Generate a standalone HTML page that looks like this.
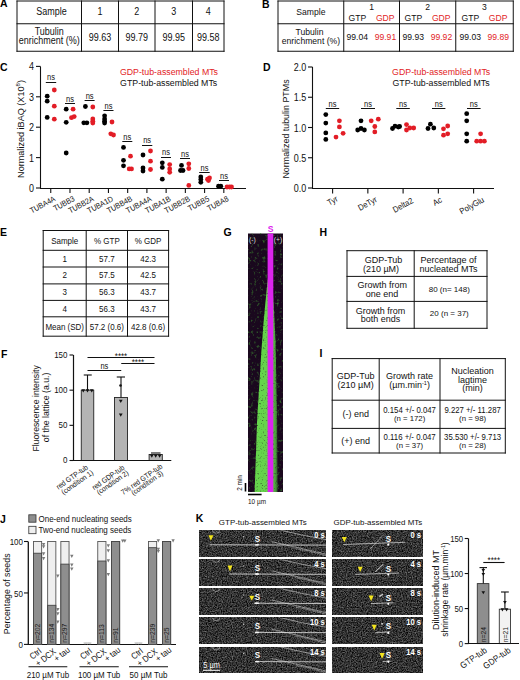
<!DOCTYPE html>
<html><head><meta charset="utf-8"><style>
html,body{margin:0;padding:0;background:#fff;}
svg{display:block;font-family:"Liberation Sans", sans-serif;}
</style></head><body>
<svg width="520" height="680" viewBox="0 0 520 680">
<rect width="520" height="680" fill="#fff"/>
<text transform="translate(0.00 7.00) scale(1 1.12)" font-size="10.5" text-anchor="start" fill="#000" font-weight="bold" >A</text>
<line x1="17.00" y1="0.50" x2="17.00" y2="51.75" stroke="#111" stroke-width="1" stroke-linecap="butt"/>
<line x1="81.50" y1="0.50" x2="81.50" y2="51.75" stroke="#111" stroke-width="1" stroke-linecap="butt"/>
<line x1="118.50" y1="0.50" x2="118.50" y2="51.75" stroke="#111" stroke-width="1" stroke-linecap="butt"/>
<line x1="155.00" y1="0.50" x2="155.00" y2="51.75" stroke="#111" stroke-width="1" stroke-linecap="butt"/>
<line x1="192.50" y1="0.50" x2="192.50" y2="51.75" stroke="#111" stroke-width="1" stroke-linecap="butt"/>
<line x1="224.00" y1="0.50" x2="224.00" y2="51.75" stroke="#111" stroke-width="1" stroke-linecap="butt"/>
<line x1="16.50" y1="1.00" x2="224.50" y2="1.00" stroke="#111" stroke-width="1" stroke-linecap="butt"/>
<line x1="16.50" y1="23.75" x2="224.50" y2="23.75" stroke="#111" stroke-width="1" stroke-linecap="butt"/>
<line x1="16.50" y1="51.25" x2="224.50" y2="51.25" stroke="#111" stroke-width="1" stroke-linecap="butt"/>
<text transform="translate(51.50 15.30) scale(1 1.12)" font-size="9" text-anchor="middle" fill="#111" font-weight="normal" >Sample</text>
<text transform="translate(49.25 35.30) scale(1 1.12)" font-size="9" text-anchor="middle" fill="#111" font-weight="normal" >Tubulin</text>
<text transform="translate(49.25 43.80) scale(1 1.12)" font-size="9" text-anchor="middle" fill="#111" font-weight="normal" >enrichment (%)</text>
<text transform="translate(100.00 15.30) scale(1 1.12)" font-size="9" text-anchor="middle" fill="#111" font-weight="normal" >1</text>
<text transform="translate(100.00 40.50) scale(1 1.12)" font-size="9" text-anchor="middle" fill="#111" font-weight="normal" >99.63</text>
<text transform="translate(136.75 15.30) scale(1 1.12)" font-size="9" text-anchor="middle" fill="#111" font-weight="normal" >2</text>
<text transform="translate(136.75 40.50) scale(1 1.12)" font-size="9" text-anchor="middle" fill="#111" font-weight="normal" >99.79</text>
<text transform="translate(173.75 15.30) scale(1 1.12)" font-size="9" text-anchor="middle" fill="#111" font-weight="normal" >3</text>
<text transform="translate(173.75 40.50) scale(1 1.12)" font-size="9" text-anchor="middle" fill="#111" font-weight="normal" >99.95</text>
<text transform="translate(208.25 15.30) scale(1 1.12)" font-size="9" text-anchor="middle" fill="#111" font-weight="normal" >4</text>
<text transform="translate(208.25 40.50) scale(1 1.12)" font-size="9" text-anchor="middle" fill="#111" font-weight="normal" >99.58</text>
<text transform="translate(262.00 8.00) scale(1 1.12)" font-size="10.5" text-anchor="start" fill="#000" font-weight="bold" >B</text>
<line x1="278.00" y1="0.50" x2="278.00" y2="51.75" stroke="#111" stroke-width="1" stroke-linecap="butt"/>
<line x1="343.75" y1="0.50" x2="343.75" y2="51.75" stroke="#111" stroke-width="1" stroke-linecap="butt"/>
<line x1="399.50" y1="0.50" x2="399.50" y2="51.75" stroke="#111" stroke-width="1" stroke-linecap="butt"/>
<line x1="455.75" y1="0.50" x2="455.75" y2="51.75" stroke="#111" stroke-width="1" stroke-linecap="butt"/>
<line x1="513.25" y1="0.50" x2="513.25" y2="51.75" stroke="#111" stroke-width="1" stroke-linecap="butt"/>
<line x1="277.50" y1="1.00" x2="513.75" y2="1.00" stroke="#111" stroke-width="1" stroke-linecap="butt"/>
<line x1="277.50" y1="23.75" x2="513.75" y2="23.75" stroke="#111" stroke-width="1" stroke-linecap="butt"/>
<line x1="277.50" y1="51.25" x2="513.75" y2="51.25" stroke="#111" stroke-width="1" stroke-linecap="butt"/>
<text transform="translate(310.90 15.30) scale(1 1.12)" font-size="8.6" text-anchor="middle" fill="#111" font-weight="normal" >Sample</text>
<text transform="translate(309.50 35.30) scale(1 1.12)" font-size="8.6" text-anchor="middle" fill="#111" font-weight="normal" >Tubulin</text>
<text transform="translate(310.90 43.80) scale(1 1.12)" font-size="8.6" text-anchor="middle" fill="#111" font-weight="normal" >enrichment (%)</text>
<text transform="translate(371.62 10.10) scale(1 1.12)" font-size="8.6" text-anchor="middle" fill="#111" font-weight="normal" >1</text>
<text transform="translate(357.43 20.50) scale(1 1.12)" font-size="8.6" text-anchor="middle" fill="#111" font-weight="normal" >GTP</text>
<text transform="translate(385.23 20.50) scale(1 1.12)" font-size="8.6" text-anchor="middle" fill="#e21d26" font-weight="normal" >GDP</text>
<text transform="translate(357.32 40.30) scale(1 1.12)" font-size="8.6" text-anchor="middle" fill="#111" font-weight="normal" >99.04</text>
<text transform="translate(385.43 40.30) scale(1 1.12)" font-size="8.6" text-anchor="middle" fill="#e21d26" font-weight="normal" >99.91</text>
<text transform="translate(427.62 10.10) scale(1 1.12)" font-size="8.6" text-anchor="middle" fill="#111" font-weight="normal" >2</text>
<text transform="translate(413.43 20.50) scale(1 1.12)" font-size="8.6" text-anchor="middle" fill="#111" font-weight="normal" >GTP</text>
<text transform="translate(441.23 20.50) scale(1 1.12)" font-size="8.6" text-anchor="middle" fill="#e21d26" font-weight="normal" >GDP</text>
<text transform="translate(413.32 40.30) scale(1 1.12)" font-size="8.6" text-anchor="middle" fill="#111" font-weight="normal" >99.93</text>
<text transform="translate(441.43 40.30) scale(1 1.12)" font-size="8.6" text-anchor="middle" fill="#e21d26" font-weight="normal" >99.92</text>
<text transform="translate(484.50 10.10) scale(1 1.12)" font-size="8.6" text-anchor="middle" fill="#111" font-weight="normal" >3</text>
<text transform="translate(470.30 20.50) scale(1 1.12)" font-size="8.6" text-anchor="middle" fill="#111" font-weight="normal" >GTP</text>
<text transform="translate(498.10 20.50) scale(1 1.12)" font-size="8.6" text-anchor="middle" fill="#e21d26" font-weight="normal" >GDP</text>
<text transform="translate(470.20 40.30) scale(1 1.12)" font-size="8.6" text-anchor="middle" fill="#111" font-weight="normal" >99.03</text>
<text transform="translate(498.30 40.30) scale(1 1.12)" font-size="8.6" text-anchor="middle" fill="#e21d26" font-weight="normal" >99.89</text>
<text transform="translate(0.00 70.50) scale(1 1.12)" font-size="10.5" text-anchor="start" fill="#000" font-weight="bold" >C</text>
<line x1="40.50" y1="66.50" x2="40.50" y2="188.50" stroke="#111" stroke-width="1.1" stroke-linecap="butt"/>
<line x1="36.00" y1="188.00" x2="40.50" y2="188.00" stroke="#111" stroke-width="1.1" stroke-linecap="butt"/>
<text transform="translate(34.00 192.00) scale(1 1.12)" font-size="9" text-anchor="end" fill="#111" font-weight="normal" >0</text>
<line x1="36.00" y1="157.60" x2="40.50" y2="157.60" stroke="#111" stroke-width="1.1" stroke-linecap="butt"/>
<text transform="translate(34.00 161.60) scale(1 1.12)" font-size="9" text-anchor="end" fill="#111" font-weight="normal" >1</text>
<line x1="36.00" y1="127.20" x2="40.50" y2="127.20" stroke="#111" stroke-width="1.1" stroke-linecap="butt"/>
<text transform="translate(34.00 131.20) scale(1 1.12)" font-size="9" text-anchor="end" fill="#111" font-weight="normal" >2</text>
<line x1="36.00" y1="96.80" x2="40.50" y2="96.80" stroke="#111" stroke-width="1.1" stroke-linecap="butt"/>
<text transform="translate(34.00 100.80) scale(1 1.12)" font-size="9" text-anchor="end" fill="#111" font-weight="normal" >3</text>
<line x1="36.00" y1="66.40" x2="40.50" y2="66.40" stroke="#111" stroke-width="1.1" stroke-linecap="butt"/>
<text transform="translate(34.00 70.40) scale(1 1.12)" font-size="9" text-anchor="end" fill="#111" font-weight="normal" >4</text>
<line x1="40.00" y1="188.50" x2="246.00" y2="188.50" stroke="#111" stroke-width="1.2" stroke-linecap="butt"/>
<line x1="50.75" y1="188.00" x2="50.75" y2="193.00" stroke="#111" stroke-width="1.1" stroke-linecap="butt"/>
<text transform="translate(56.05 200.50) rotate(-28) scale(1 1.12)" font-size="7.1" text-anchor="end" fill="#111" font-weight="normal" >TUBA4A</text>
<line x1="69.98" y1="188.00" x2="69.98" y2="193.00" stroke="#111" stroke-width="1.1" stroke-linecap="butt"/>
<text transform="translate(75.28 200.50) rotate(-28) scale(1 1.12)" font-size="7.1" text-anchor="end" fill="#111" font-weight="normal" >TUBB3</text>
<line x1="89.21" y1="188.00" x2="89.21" y2="193.00" stroke="#111" stroke-width="1.1" stroke-linecap="butt"/>
<text transform="translate(94.51 200.50) rotate(-28) scale(1 1.12)" font-size="7.1" text-anchor="end" fill="#111" font-weight="normal" >TUBB2A</text>
<line x1="108.44" y1="188.00" x2="108.44" y2="193.00" stroke="#111" stroke-width="1.1" stroke-linecap="butt"/>
<text transform="translate(113.74 200.50) rotate(-28) scale(1 1.12)" font-size="7.1" text-anchor="end" fill="#111" font-weight="normal" >TUBA1D</text>
<line x1="127.67" y1="188.00" x2="127.67" y2="193.00" stroke="#111" stroke-width="1.1" stroke-linecap="butt"/>
<text transform="translate(132.97 200.50) rotate(-28) scale(1 1.12)" font-size="7.1" text-anchor="end" fill="#111" font-weight="normal" >TUBB4B</text>
<line x1="146.90" y1="188.00" x2="146.90" y2="193.00" stroke="#111" stroke-width="1.1" stroke-linecap="butt"/>
<text transform="translate(152.20 200.50) rotate(-28) scale(1 1.12)" font-size="7.1" text-anchor="end" fill="#111" font-weight="normal" >TUBA4A</text>
<line x1="166.13" y1="188.00" x2="166.13" y2="193.00" stroke="#111" stroke-width="1.1" stroke-linecap="butt"/>
<text transform="translate(171.43 200.50) rotate(-28) scale(1 1.12)" font-size="7.1" text-anchor="end" fill="#111" font-weight="normal" >TUBA1B</text>
<line x1="185.36" y1="188.00" x2="185.36" y2="193.00" stroke="#111" stroke-width="1.1" stroke-linecap="butt"/>
<text transform="translate(190.66 200.50) rotate(-28) scale(1 1.12)" font-size="7.1" text-anchor="end" fill="#111" font-weight="normal" >TUBB2B</text>
<line x1="204.59" y1="188.00" x2="204.59" y2="193.00" stroke="#111" stroke-width="1.1" stroke-linecap="butt"/>
<text transform="translate(209.89 200.50) rotate(-28) scale(1 1.12)" font-size="7.1" text-anchor="end" fill="#111" font-weight="normal" >TUBB5</text>
<line x1="223.82" y1="188.00" x2="223.82" y2="193.00" stroke="#111" stroke-width="1.1" stroke-linecap="butt"/>
<text transform="translate(229.12 200.50) rotate(-28) scale(1 1.12)" font-size="7.1" text-anchor="end" fill="#111" font-weight="normal" >TUBA8</text>
<text transform="translate(23.50 129.00) rotate(-90) scale(1 1.0)" font-size="9.1" text-anchor="middle" fill="#111" font-weight="normal" >Normalized iBAQ (X10<tspan font-size="6" dy="-3.5">8</tspan><tspan dy="3.5">)</tspan></text>
<text transform="translate(218.00 75.40) scale(1 1.07)" font-size="8.8" text-anchor="end" fill="#e21d26" font-weight="normal" >GDP-tub-assembled MTs</text>
<text transform="translate(217.20 85.80) scale(1 1.07)" font-size="8.8" text-anchor="end" fill="#111" font-weight="normal" >GTP-tub-assembled MTs</text>
<line x1="45.80" y1="82.50" x2="56.20" y2="82.50" stroke="#111" stroke-width="1.0" stroke-linecap="butt"/>
<text transform="translate(51.00 80.20) scale(1 1.12)" font-size="7.5" text-anchor="middle" fill="#111" font-weight="normal" >ns</text>
<line x1="65.00" y1="103.50" x2="75.00" y2="103.50" stroke="#111" stroke-width="1.0" stroke-linecap="butt"/>
<text transform="translate(70.00 101.60) scale(1 1.12)" font-size="7.5" text-anchor="middle" fill="#111" font-weight="normal" >ns</text>
<line x1="84.60" y1="100.50" x2="94.60" y2="100.50" stroke="#111" stroke-width="1.0" stroke-linecap="butt"/>
<text transform="translate(89.60 98.70) scale(1 1.12)" font-size="7.5" text-anchor="middle" fill="#111" font-weight="normal" >ns</text>
<line x1="103.40" y1="110.50" x2="113.50" y2="110.50" stroke="#111" stroke-width="1.0" stroke-linecap="butt"/>
<text transform="translate(108.45 108.70) scale(1 1.12)" font-size="7.5" text-anchor="middle" fill="#111" font-weight="normal" >ns</text>
<line x1="122.30" y1="141.50" x2="132.30" y2="141.50" stroke="#111" stroke-width="1.0" stroke-linecap="butt"/>
<text transform="translate(127.30 139.70) scale(1 1.12)" font-size="7.5" text-anchor="middle" fill="#111" font-weight="normal" >ns</text>
<line x1="142.00" y1="145.50" x2="152.30" y2="145.50" stroke="#111" stroke-width="1.0" stroke-linecap="butt"/>
<text transform="translate(147.15 143.20) scale(1 1.12)" font-size="7.5" text-anchor="middle" fill="#111" font-weight="normal" >ns</text>
<line x1="161.00" y1="157.50" x2="171.00" y2="157.50" stroke="#111" stroke-width="1.0" stroke-linecap="butt"/>
<text transform="translate(166.00 155.20) scale(1 1.12)" font-size="7.5" text-anchor="middle" fill="#111" font-weight="normal" >ns</text>
<line x1="180.00" y1="158.50" x2="190.00" y2="158.50" stroke="#111" stroke-width="1.0" stroke-linecap="butt"/>
<text transform="translate(185.00 156.70) scale(1 1.12)" font-size="7.5" text-anchor="middle" fill="#111" font-weight="normal" >ns</text>
<line x1="199.20" y1="172.50" x2="209.70" y2="172.50" stroke="#111" stroke-width="1.0" stroke-linecap="butt"/>
<text transform="translate(204.45 170.50) scale(1 1.12)" font-size="7.5" text-anchor="middle" fill="#111" font-weight="normal" >ns</text>
<line x1="219.00" y1="180.50" x2="229.00" y2="180.50" stroke="#111" stroke-width="1.0" stroke-linecap="butt"/>
<text transform="translate(224.00 178.50) scale(1 1.12)" font-size="7.5" text-anchor="middle" fill="#111" font-weight="normal" >ns</text>
<circle cx="47.20" cy="96.20" r="2.4" fill="#000"/>
<circle cx="47.20" cy="101.20" r="2.4" fill="#000"/>
<circle cx="47.20" cy="117.40" r="2.4" fill="#000"/>
<circle cx="66.20" cy="109.20" r="2.4" fill="#000"/>
<circle cx="66.20" cy="122.30" r="2.4" fill="#000"/>
<circle cx="66.20" cy="153.00" r="2.4" fill="#000"/>
<circle cx="85.40" cy="106.50" r="2.4" fill="#000"/>
<circle cx="83.80" cy="122.80" r="2.4" fill="#000"/>
<circle cx="86.90" cy="122.80" r="2.4" fill="#000"/>
<circle cx="104.60" cy="115.80" r="2.4" fill="#000"/>
<circle cx="104.60" cy="118.90" r="2.4" fill="#000"/>
<circle cx="104.60" cy="121.20" r="2.4" fill="#000"/>
<circle cx="104.60" cy="123.00" r="2.4" fill="#000"/>
<circle cx="123.50" cy="147.40" r="2.4" fill="#000"/>
<circle cx="123.50" cy="160.30" r="2.4" fill="#000"/>
<circle cx="123.50" cy="165.80" r="2.4" fill="#000"/>
<circle cx="143.00" cy="155.00" r="2.4" fill="#000"/>
<circle cx="143.00" cy="168.00" r="2.4" fill="#000"/>
<circle cx="143.00" cy="171.00" r="2.4" fill="#000"/>
<circle cx="162.30" cy="162.80" r="2.4" fill="#000"/>
<circle cx="162.30" cy="167.40" r="2.4" fill="#000"/>
<circle cx="162.30" cy="179.20" r="2.4" fill="#000"/>
<circle cx="181.50" cy="165.40" r="2.4" fill="#000"/>
<circle cx="180.50" cy="170.50" r="2.4" fill="#000"/>
<circle cx="183.00" cy="170.50" r="2.4" fill="#000"/>
<circle cx="200.80" cy="177.00" r="2.4" fill="#000"/>
<circle cx="200.80" cy="179.50" r="2.4" fill="#000"/>
<circle cx="200.80" cy="182.30" r="2.4" fill="#000"/>
<circle cx="218.50" cy="186.20" r="2.4" fill="#000"/>
<circle cx="220.80" cy="186.20" r="2.4" fill="#000"/>
<circle cx="54.30" cy="90.00" r="2.4" fill="#e21d26"/>
<circle cx="54.30" cy="106.20" r="2.4" fill="#e21d26"/>
<circle cx="54.30" cy="119.20" r="2.4" fill="#e21d26"/>
<circle cx="73.10" cy="109.20" r="2.4" fill="#e21d26"/>
<circle cx="71.50" cy="117.70" r="2.4" fill="#e21d26"/>
<circle cx="74.20" cy="116.60" r="2.4" fill="#e21d26"/>
<circle cx="92.80" cy="107.00" r="2.4" fill="#e21d26"/>
<circle cx="92.80" cy="118.90" r="2.4" fill="#e21d26"/>
<circle cx="92.80" cy="121.20" r="2.4" fill="#e21d26"/>
<circle cx="92.80" cy="123.00" r="2.4" fill="#e21d26"/>
<circle cx="112.00" cy="122.00" r="2.4" fill="#e21d26"/>
<circle cx="110.80" cy="133.80" r="2.4" fill="#e21d26"/>
<circle cx="113.50" cy="135.00" r="2.4" fill="#e21d26"/>
<circle cx="130.50" cy="156.20" r="2.4" fill="#e21d26"/>
<circle cx="129.20" cy="168.90" r="2.4" fill="#e21d26"/>
<circle cx="131.50" cy="168.90" r="2.4" fill="#e21d26"/>
<circle cx="150.50" cy="151.00" r="2.4" fill="#e21d26"/>
<circle cx="150.50" cy="161.20" r="2.4" fill="#e21d26"/>
<circle cx="150.50" cy="169.50" r="2.4" fill="#e21d26"/>
<circle cx="169.70" cy="164.60" r="2.4" fill="#e21d26"/>
<circle cx="169.70" cy="169.00" r="2.4" fill="#e21d26"/>
<circle cx="169.70" cy="172.30" r="2.4" fill="#e21d26"/>
<circle cx="188.80" cy="163.80" r="2.4" fill="#e21d26"/>
<circle cx="188.80" cy="168.50" r="2.4" fill="#e21d26"/>
<circle cx="188.80" cy="185.40" r="2.4" fill="#e21d26"/>
<circle cx="207.50" cy="179.20" r="2.4" fill="#e21d26"/>
<circle cx="209.50" cy="178.00" r="2.4" fill="#e21d26"/>
<circle cx="208.50" cy="180.50" r="2.4" fill="#e21d26"/>
<circle cx="227.00" cy="187.00" r="2.4" fill="#e21d26"/>
<circle cx="229.50" cy="187.00" r="2.4" fill="#e21d26"/>
<circle cx="231.50" cy="187.00" r="2.4" fill="#e21d26"/>
<text transform="translate(263.00 71.00) scale(1 1.12)" font-size="10.5" text-anchor="start" fill="#000" font-weight="bold" >D</text>
<line x1="312.50" y1="67.00" x2="312.50" y2="188.50" stroke="#111" stroke-width="1.1" stroke-linecap="butt"/>
<line x1="308.00" y1="188.00" x2="312.50" y2="188.00" stroke="#111" stroke-width="1.1" stroke-linecap="butt"/>
<text transform="translate(306.30 192.00) scale(1 1.12)" font-size="9" text-anchor="end" fill="#111" font-weight="normal" >0.0</text>
<line x1="308.00" y1="157.75" x2="312.50" y2="157.75" stroke="#111" stroke-width="1.1" stroke-linecap="butt"/>
<text transform="translate(306.30 161.75) scale(1 1.12)" font-size="9" text-anchor="end" fill="#111" font-weight="normal" >0.5</text>
<line x1="308.00" y1="127.50" x2="312.50" y2="127.50" stroke="#111" stroke-width="1.1" stroke-linecap="butt"/>
<text transform="translate(306.30 131.50) scale(1 1.12)" font-size="9" text-anchor="end" fill="#111" font-weight="normal" >1.0</text>
<line x1="308.00" y1="97.25" x2="312.50" y2="97.25" stroke="#111" stroke-width="1.1" stroke-linecap="butt"/>
<text transform="translate(306.30 101.25) scale(1 1.12)" font-size="9" text-anchor="end" fill="#111" font-weight="normal" >1.5</text>
<line x1="308.00" y1="67.00" x2="312.50" y2="67.00" stroke="#111" stroke-width="1.1" stroke-linecap="butt"/>
<text transform="translate(306.30 71.00) scale(1 1.12)" font-size="9" text-anchor="end" fill="#111" font-weight="normal" >2.0</text>
<line x1="312.00" y1="188.50" x2="494.00" y2="188.50" stroke="#111" stroke-width="1.2" stroke-linecap="butt"/>
<line x1="332.60" y1="188.00" x2="332.60" y2="193.40" stroke="#111" stroke-width="1.1" stroke-linecap="butt"/>
<text transform="translate(338.50 200.60) rotate(-29) scale(1 1.12)" font-size="7.6" text-anchor="end" fill="#111" font-weight="normal" >Tyr</text>
<line x1="367.85" y1="188.00" x2="367.85" y2="193.40" stroke="#111" stroke-width="1.1" stroke-linecap="butt"/>
<text transform="translate(377.70 201.20) rotate(-29) scale(1 1.12)" font-size="7.6" text-anchor="end" fill="#111" font-weight="normal" >DeTyr</text>
<line x1="403.10" y1="188.00" x2="403.10" y2="193.40" stroke="#111" stroke-width="1.1" stroke-linecap="butt"/>
<text transform="translate(414.00 202.40) rotate(-29) scale(1 1.12)" font-size="7.6" text-anchor="end" fill="#111" font-weight="normal" >Delta2</text>
<line x1="438.35" y1="188.00" x2="438.35" y2="193.40" stroke="#111" stroke-width="1.1" stroke-linecap="butt"/>
<text transform="translate(442.50 201.60) rotate(-29) scale(1 1.12)" font-size="7.6" text-anchor="end" fill="#111" font-weight="normal" >Ac</text>
<line x1="473.60" y1="188.00" x2="473.60" y2="193.40" stroke="#111" stroke-width="1.1" stroke-linecap="butt"/>
<text transform="translate(484.80 201.60) rotate(-29) scale(1 1.12)" font-size="7.6" text-anchor="end" fill="#111" font-weight="normal" >PolyGlu</text>
<text transform="translate(288.50 129.00) rotate(-90) scale(1 1.0)" font-size="8.9" text-anchor="middle" fill="#111" font-weight="normal" >Normalized tubulin PTMs</text>
<text transform="translate(490.20 75.40) scale(1 1.07)" font-size="8.8" text-anchor="end" fill="#e21d26" font-weight="normal" >GDP-tub-assembled MTs</text>
<text transform="translate(489.60 85.80) scale(1 1.07)" font-size="8.8" text-anchor="end" fill="#111" font-weight="normal" >GTP-tub-assembled MTs</text>
<line x1="325.80" y1="108.50" x2="339.20" y2="108.50" stroke="#111" stroke-width="1.0" stroke-linecap="butt"/>
<text transform="translate(332.50 107.20) scale(1 1.12)" font-size="7.5" text-anchor="middle" fill="#111" font-weight="normal" >ns</text>
<line x1="361.00" y1="108.50" x2="375.00" y2="108.50" stroke="#111" stroke-width="1.0" stroke-linecap="butt"/>
<text transform="translate(368.00 107.20) scale(1 1.12)" font-size="7.5" text-anchor="middle" fill="#111" font-weight="normal" >ns</text>
<line x1="396.30" y1="108.50" x2="409.80" y2="108.50" stroke="#111" stroke-width="1.0" stroke-linecap="butt"/>
<text transform="translate(403.05 107.20) scale(1 1.12)" font-size="7.5" text-anchor="middle" fill="#111" font-weight="normal" >ns</text>
<line x1="432.00" y1="108.50" x2="445.40" y2="108.50" stroke="#111" stroke-width="1.0" stroke-linecap="butt"/>
<text transform="translate(438.70 107.20) scale(1 1.12)" font-size="7.5" text-anchor="middle" fill="#111" font-weight="normal" >ns</text>
<line x1="467.00" y1="108.50" x2="480.60" y2="108.50" stroke="#111" stroke-width="1.0" stroke-linecap="butt"/>
<text transform="translate(473.80 107.20) scale(1 1.12)" font-size="7.5" text-anchor="middle" fill="#111" font-weight="normal" >ns</text>
<circle cx="325.80" cy="114.60" r="2.4" fill="#000"/>
<circle cx="325.80" cy="123.10" r="2.4" fill="#000"/>
<circle cx="325.80" cy="132.90" r="2.4" fill="#000"/>
<circle cx="325.80" cy="139.40" r="2.4" fill="#000"/>
<circle cx="361.00" cy="120.80" r="2.4" fill="#000"/>
<circle cx="357.70" cy="130.00" r="2.4" fill="#000"/>
<circle cx="361.00" cy="128.50" r="2.4" fill="#000"/>
<circle cx="364.40" cy="130.00" r="2.4" fill="#000"/>
<circle cx="392.50" cy="128.50" r="2.4" fill="#000"/>
<circle cx="395.00" cy="126.20" r="2.4" fill="#000"/>
<circle cx="398.30" cy="127.00" r="2.4" fill="#000"/>
<circle cx="399.60" cy="126.50" r="2.4" fill="#000"/>
<circle cx="428.00" cy="128.50" r="2.4" fill="#000"/>
<circle cx="430.40" cy="124.20" r="2.4" fill="#000"/>
<circle cx="433.80" cy="128.00" r="2.4" fill="#000"/>
<circle cx="466.70" cy="113.70" r="2.4" fill="#000"/>
<circle cx="466.70" cy="120.80" r="2.4" fill="#000"/>
<circle cx="466.70" cy="133.80" r="2.4" fill="#000"/>
<circle cx="466.70" cy="141.20" r="2.4" fill="#000"/>
<circle cx="339.40" cy="120.80" r="2.4" fill="#e21d26"/>
<circle cx="339.40" cy="126.90" r="2.4" fill="#e21d26"/>
<circle cx="343.10" cy="133.30" r="2.4" fill="#e21d26"/>
<circle cx="336.00" cy="137.10" r="2.4" fill="#e21d26"/>
<circle cx="371.20" cy="120.80" r="2.4" fill="#e21d26"/>
<circle cx="378.30" cy="119.20" r="2.4" fill="#e21d26"/>
<circle cx="374.80" cy="126.50" r="2.4" fill="#e21d26"/>
<circle cx="374.80" cy="131.90" r="2.4" fill="#e21d26"/>
<circle cx="406.50" cy="124.60" r="2.4" fill="#e21d26"/>
<circle cx="406.50" cy="130.00" r="2.4" fill="#e21d26"/>
<circle cx="409.80" cy="128.00" r="2.4" fill="#e21d26"/>
<circle cx="413.70" cy="128.00" r="2.4" fill="#e21d26"/>
<circle cx="443.50" cy="128.80" r="2.4" fill="#e21d26"/>
<circle cx="447.70" cy="126.00" r="2.4" fill="#e21d26"/>
<circle cx="443.50" cy="135.20" r="2.4" fill="#e21d26"/>
<circle cx="447.70" cy="133.80" r="2.4" fill="#e21d26"/>
<circle cx="480.60" cy="133.80" r="2.4" fill="#e21d26"/>
<circle cx="476.70" cy="141.20" r="2.4" fill="#e21d26"/>
<circle cx="480.60" cy="141.20" r="2.4" fill="#e21d26"/>
<circle cx="484.40" cy="141.20" r="2.4" fill="#e21d26"/>
<text transform="translate(0.00 236.00) scale(1 1.12)" font-size="10.5" text-anchor="start" fill="#000" font-weight="bold" >E</text>
<line x1="43.20" y1="230.00" x2="43.20" y2="336.70" stroke="#111" stroke-width="1" stroke-linecap="butt"/>
<line x1="86.20" y1="230.00" x2="86.20" y2="336.70" stroke="#111" stroke-width="1" stroke-linecap="butt"/>
<line x1="127.50" y1="230.00" x2="127.50" y2="336.70" stroke="#111" stroke-width="1" stroke-linecap="butt"/>
<line x1="168.60" y1="230.00" x2="168.60" y2="336.70" stroke="#111" stroke-width="1" stroke-linecap="butt"/>
<line x1="42.70" y1="230.50" x2="169.10" y2="230.50" stroke="#111" stroke-width="1" stroke-linecap="butt"/>
<line x1="42.70" y1="250.30" x2="169.10" y2="250.30" stroke="#111" stroke-width="1" stroke-linecap="butt"/>
<line x1="42.70" y1="267.00" x2="169.10" y2="267.00" stroke="#111" stroke-width="1" stroke-linecap="butt"/>
<line x1="42.70" y1="283.90" x2="169.10" y2="283.90" stroke="#111" stroke-width="1" stroke-linecap="butt"/>
<line x1="42.70" y1="300.40" x2="169.10" y2="300.40" stroke="#111" stroke-width="1" stroke-linecap="butt"/>
<line x1="42.70" y1="316.80" x2="169.10" y2="316.80" stroke="#111" stroke-width="1" stroke-linecap="butt"/>
<line x1="42.70" y1="336.20" x2="169.10" y2="336.20" stroke="#111" stroke-width="1" stroke-linecap="butt"/>
<text transform="translate(64.70 244.00) scale(1 1.12)" font-size="8" text-anchor="middle" fill="#111" font-weight="normal" >Sample</text>
<text transform="translate(106.85 244.00) scale(1 1.12)" font-size="8" text-anchor="middle" fill="#111" font-weight="normal" >% GTP</text>
<text transform="translate(148.05 244.00) scale(1 1.12)" font-size="8" text-anchor="middle" fill="#111" font-weight="normal" >% GDP</text>
<text transform="translate(64.70 261.65) scale(1 1.12)" font-size="8" text-anchor="middle" fill="#111" font-weight="normal" >1</text>
<text transform="translate(106.85 261.65) scale(1 1.12)" font-size="8" text-anchor="middle" fill="#111" font-weight="normal" >57.7</text>
<text transform="translate(148.05 261.65) scale(1 1.12)" font-size="8" text-anchor="middle" fill="#111" font-weight="normal" >42.3</text>
<text transform="translate(64.70 278.45) scale(1 1.12)" font-size="8" text-anchor="middle" fill="#111" font-weight="normal" >2</text>
<text transform="translate(106.85 278.45) scale(1 1.12)" font-size="8" text-anchor="middle" fill="#111" font-weight="normal" >57.5</text>
<text transform="translate(148.05 278.45) scale(1 1.12)" font-size="8" text-anchor="middle" fill="#111" font-weight="normal" >42.5</text>
<text transform="translate(64.70 295.15) scale(1 1.12)" font-size="8" text-anchor="middle" fill="#111" font-weight="normal" >3</text>
<text transform="translate(106.85 295.15) scale(1 1.12)" font-size="8" text-anchor="middle" fill="#111" font-weight="normal" >56.3</text>
<text transform="translate(148.05 295.15) scale(1 1.12)" font-size="8" text-anchor="middle" fill="#111" font-weight="normal" >43.7</text>
<text transform="translate(64.70 311.60) scale(1 1.12)" font-size="8" text-anchor="middle" fill="#111" font-weight="normal" >4</text>
<text transform="translate(106.85 311.60) scale(1 1.12)" font-size="8" text-anchor="middle" fill="#111" font-weight="normal" >56.3</text>
<text transform="translate(148.05 311.60) scale(1 1.12)" font-size="8" text-anchor="middle" fill="#111" font-weight="normal" >43.7</text>
<text transform="translate(64.70 330.30) scale(1 1.12)" font-size="8" text-anchor="middle" fill="#111" font-weight="normal" >Mean (SD)</text>
<text transform="translate(106.85 330.30) scale(1 1.12)" font-size="8" text-anchor="middle" fill="#111" font-weight="normal" >57.2 (0.6)</text>
<text transform="translate(148.05 330.30) scale(1 1.12)" font-size="8" text-anchor="middle" fill="#111" font-weight="normal" >42.8 (0.6)</text>
<text transform="translate(1.00 358.00) scale(1 1.12)" font-size="10.5" text-anchor="start" fill="#000" font-weight="bold" >F</text>
<line x1="73.50" y1="355.00" x2="73.50" y2="461.00" stroke="#111" stroke-width="1.2" stroke-linecap="butt"/>
<line x1="69.50" y1="460.50" x2="73.25" y2="460.50" stroke="#111" stroke-width="1.1" stroke-linecap="butt"/>
<text transform="translate(67.50 463.40) scale(1 1.12)" font-size="8" text-anchor="end" fill="#111" font-weight="normal" >0</text>
<line x1="69.50" y1="425.33" x2="73.25" y2="425.33" stroke="#111" stroke-width="1.1" stroke-linecap="butt"/>
<text transform="translate(67.50 428.23) scale(1 1.12)" font-size="8" text-anchor="end" fill="#111" font-weight="normal" >50</text>
<line x1="69.50" y1="390.17" x2="73.25" y2="390.17" stroke="#111" stroke-width="1.1" stroke-linecap="butt"/>
<text transform="translate(67.50 393.07) scale(1 1.12)" font-size="8" text-anchor="end" fill="#111" font-weight="normal" >100</text>
<line x1="69.50" y1="355.00" x2="73.25" y2="355.00" stroke="#111" stroke-width="1.1" stroke-linecap="butt"/>
<text transform="translate(67.50 357.90) scale(1 1.12)" font-size="8" text-anchor="end" fill="#111" font-weight="normal" >150</text>
<rect x="81.25" y="390.17" width="12.50" height="70.33" fill="#b4b4b4" stroke="#222" stroke-width="0.9"/>
<rect x="114.50" y="397.55" width="13.00" height="62.95" fill="#b4b4b4" stroke="#222" stroke-width="0.9"/>
<rect x="149.10" y="454.52" width="13.20" height="5.98" fill="#b4b4b4" stroke="#222" stroke-width="0.9"/>
<line x1="72.75" y1="460.50" x2="171.30" y2="460.50" stroke="#111" stroke-width="1.1" stroke-linecap="butt"/>
<line x1="87.50" y1="375.00" x2="87.50" y2="390.50" stroke="#111" stroke-width="1.1" stroke-linecap="butt"/>
<line x1="83.75" y1="375.00" x2="91.75" y2="375.00" stroke="#111" stroke-width="1.1" stroke-linecap="butt"/>
<line x1="121.00" y1="377.00" x2="121.00" y2="397.50" stroke="#111" stroke-width="1.1" stroke-linecap="butt"/>
<line x1="116.75" y1="377.00" x2="125.00" y2="377.00" stroke="#111" stroke-width="1.1" stroke-linecap="butt"/>
<line x1="151.00" y1="453.00" x2="160.50" y2="453.00" stroke="#111" stroke-width="1.1" stroke-linecap="butt"/>
<path d="M81.35 389.23 L85.15 389.23 L83.25 392.46 Z" fill="#111"/>
<path d="M85.60 389.23 L89.40 389.23 L87.50 392.46 Z" fill="#111"/>
<path d="M89.85 389.23 L93.65 389.23 L91.75 392.46 Z" fill="#111"/>
<path d="M118.85 399.73 L122.65 399.73 L120.75 402.96 Z" fill="#111"/>
<path d="M118.85 413.48 L122.65 413.48 L120.75 416.71 Z" fill="#111"/>
<path d="M149.90 454.48 L153.70 454.48 L151.80 457.71 Z" fill="#111"/>
<path d="M153.80 454.48 L157.60 454.48 L155.70 457.71 Z" fill="#111"/>
<path d="M157.70 454.48 L161.50 454.48 L159.60 457.71 Z" fill="#111"/>
<circle cx="120.50" cy="385.50" r="1.3" fill="#111"/>
<line x1="87.50" y1="357.50" x2="154.50" y2="357.50" stroke="#111" stroke-width="1.1" stroke-linecap="butt"/>
<text transform="translate(121.00 358.50) scale(1 1.12)" font-size="8" text-anchor="middle" fill="#111" font-weight="normal" >****</text>
<line x1="87.50" y1="370.50" x2="121.25" y2="370.50" stroke="#111" stroke-width="1.1" stroke-linecap="butt"/>
<text transform="translate(104.40 368.50) scale(1 1.12)" font-size="7.5" text-anchor="middle" fill="#111" font-weight="normal" >ns</text>
<line x1="121.25" y1="363.50" x2="154.50" y2="363.50" stroke="#111" stroke-width="1.1" stroke-linecap="butt"/>
<text transform="translate(137.90 365.30) scale(1 1.12)" font-size="8" text-anchor="middle" fill="#111" font-weight="normal" >****</text>
<text transform="translate(39.30 408.40) rotate(-90) scale(1 1.0)" font-size="8.7" text-anchor="middle" fill="#111" font-weight="normal" >Fluorescence intensity</text>
<text transform="translate(48.90 407.40) rotate(-90) scale(1 1.0)" font-size="8.7" text-anchor="middle" fill="#111" font-weight="normal" >of the lattice (a.u.)</text>
<text transform="translate(88.60 468.50) rotate(-35) scale(1 1.12)" font-size="6.7" text-anchor="end" fill="#111" font-weight="normal" >red GTP-tub</text>
<text transform="translate(93.80 473.80) rotate(-35) scale(1 1.12)" font-size="6.7" text-anchor="end" fill="#111" font-weight="normal" >(condition 1)</text>
<text transform="translate(125.00 468.80) rotate(-35) scale(1 1.12)" font-size="6.7" text-anchor="end" fill="#111" font-weight="normal" >red GDP-tub</text>
<text transform="translate(129.20 474.00) rotate(-35) scale(1 1.12)" font-size="6.7" text-anchor="end" fill="#111" font-weight="normal" >(condition 2)</text>
<text transform="translate(163.00 467.50) rotate(-35) scale(1 1.12)" font-size="6.7" text-anchor="end" fill="#111" font-weight="normal" >7% red GTP-tub</text>
<text transform="translate(163.60 474.50) rotate(-35) scale(1 1.12)" font-size="6.7" text-anchor="end" fill="#111" font-weight="normal" >(condition 3)</text>
<text transform="translate(223.50 235.50) scale(1 1.12)" font-size="10.5" text-anchor="start" fill="#000" font-weight="bold" >G</text>
<defs>
<filter id="grainK" x="0" y="0" width="100%" height="100%" color-interpolation-filters="sRGB">
 <feTurbulence type="fractalNoise" baseFrequency="0.8" numOctaves="2" seed="5"/>
 <feColorMatrix type="matrix" values="0.7 0 0 0 -0.15  0.7 0 0 0 -0.15  0.7 0 0 0 -0.15  0 0 0 0 1"/>
</filter>
<filter id="kbg" x="0" y="0" width="100%" height="100%" color-interpolation-filters="sRGB">
 <feTurbulence type="fractalNoise" baseFrequency="0.35" numOctaves="2" seed="9"/>
 <feColorMatrix type="matrix" values="0 0 0 0 0.22  0 0 0 0 0.5  0 0 0 0 0.18  2.6 0 0 0 -1.45"/>
</filter>
<filter id="kw" x="-10%" y="0" width="120%" height="100%" color-interpolation-filters="sRGB">
 <feTurbulence type="fractalNoise" baseFrequency="0.6" numOctaves="2" seed="13" result="t"/>
 <feColorMatrix in="t" type="matrix" values="0 0 0 0 0  0 0 0 0 0  0 0 0 0 0  2.0 0 0 0 0.15" result="m"/>
 <feComposite in="SourceGraphic" in2="m" operator="in" result="c"/>
 <feGaussianBlur in="c" stdDeviation="0.6"/>
</filter>
<linearGradient id="rb" x1="0" x2="1" y1="0" y2="0">
 <stop offset="0" stop-color="#5cc846" stop-opacity="0.95"/>
 <stop offset="0.6" stop-color="#58c044" stop-opacity="0.75"/>
 <stop offset="1" stop-color="#58c044" stop-opacity="0"/>
</linearGradient>
<clipPath id="kclip"><rect x="248" y="233.5" width="35" height="258.5"/></clipPath>
</defs>
<rect x="248" y="233.5" width="35" height="258.5" fill="#1a081e"/>
<rect x="248" y="233.5" width="35" height="258.5" fill="#000" filter="url(#kbg)"/>
<path d="M268 278 L268 492 L254.6 492 L257.1 420 L259.6 380 L261.2 353.5 L263.4 324 L266.6 290 Z" fill="#66d44c" filter="url(#kw)"/>
<path d="M273 292 L273 492 L278.2 492 L277.2 420 L275.5 340 Z" fill="url(#rb)" filter="url(#kw)"/>
<rect x="267.6" y="233.5" width="5.7" height="258.5" fill="#dc24ee"/>
<text transform="translate(270.60 232.00) scale(1 1.0)" font-size="8.6" text-anchor="middle" fill="#dc24ee" font-weight="bold" >S</text>
<text transform="translate(252.40 242.20) scale(1 1.12)" font-size="6.8" text-anchor="middle" fill="#ddd" font-weight="normal" >(-)</text>
<text transform="translate(277.90 242.20) scale(1 1.12)" font-size="6.8" text-anchor="middle" fill="#ddd" font-weight="normal" >(+)</text>
<line x1="245.50" y1="483.00" x2="245.50" y2="491.50" stroke="#000" stroke-width="1.6" stroke-linecap="butt"/>
<line x1="248.00" y1="494.50" x2="261.60" y2="494.50" stroke="#000" stroke-width="1.6" stroke-linecap="butt"/>
<text transform="translate(241.80 483.00) rotate(-90) scale(1 1.12)" font-size="6.4" text-anchor="middle" fill="#111" font-weight="normal" >2 min</text>
<text transform="translate(257.00 503.50) scale(1 1.12)" font-size="6.4" text-anchor="middle" fill="#111" font-weight="normal" >10 µm</text>
<text transform="translate(319.40 235.60) scale(1 1.0)" font-size="10.5" text-anchor="start" fill="#000" font-weight="bold" >H</text>
<line x1="347.00" y1="250.20" x2="347.00" y2="328.80" stroke="#111" stroke-width="1" stroke-linecap="butt"/>
<line x1="414.20" y1="250.20" x2="414.20" y2="328.80" stroke="#111" stroke-width="1" stroke-linecap="butt"/>
<line x1="487.00" y1="250.20" x2="487.00" y2="328.80" stroke="#111" stroke-width="1" stroke-linecap="butt"/>
<line x1="346.50" y1="250.70" x2="487.50" y2="250.70" stroke="#111" stroke-width="1" stroke-linecap="butt"/>
<line x1="346.50" y1="276.40" x2="487.50" y2="276.40" stroke="#111" stroke-width="1" stroke-linecap="butt"/>
<line x1="346.50" y1="301.40" x2="487.50" y2="301.40" stroke="#111" stroke-width="1" stroke-linecap="butt"/>
<line x1="346.50" y1="328.30" x2="487.50" y2="328.30" stroke="#111" stroke-width="1" stroke-linecap="butt"/>
<text transform="translate(383.50 262.60) scale(1 1.0)" font-size="9" text-anchor="middle" fill="#111" font-weight="normal" >GDP-Tub</text>
<text transform="translate(381.00 271.60) scale(1 1.0)" font-size="9" text-anchor="middle" fill="#111" font-weight="normal" >(210 µM)</text>
<text transform="translate(448.50 263.30) scale(1 1.0)" font-size="9" text-anchor="middle" fill="#111" font-weight="normal" >Percentage of</text>
<text transform="translate(448.50 272.20) scale(1 1.0)" font-size="9" text-anchor="middle" fill="#111" font-weight="normal" >nucleated MTs</text>
<text transform="translate(382.20 287.60) scale(1 1.0)" font-size="9" text-anchor="middle" fill="#111" font-weight="normal" >Growth from</text>
<text transform="translate(382.00 296.60) scale(1 1.0)" font-size="9" text-anchor="middle" fill="#111" font-weight="normal" >one end</text>
<text transform="translate(380.40 313.70) scale(1 1.0)" font-size="9" text-anchor="middle" fill="#111" font-weight="normal" >Growth from</text>
<text transform="translate(380.60 321.90) scale(1 1.0)" font-size="9" text-anchor="middle" fill="#111" font-weight="normal" >both ends</text>
<text transform="translate(449.30 291.90) scale(1 1.0)" font-size="8" text-anchor="middle" fill="#111" font-weight="normal" >80 (n= 148)</text>
<text transform="translate(449.30 316.10) scale(1 1.0)" font-size="8" text-anchor="middle" fill="#111" font-weight="normal" >20 (n = 37)</text>
<text transform="translate(319.50 356.50) scale(1 1.0)" font-size="10.5" text-anchor="start" fill="#000" font-weight="bold" >I</text>
<line x1="332.20" y1="358.10" x2="332.20" y2="453.50" stroke="#111" stroke-width="1" stroke-linecap="butt"/>
<line x1="379.20" y1="358.10" x2="379.20" y2="453.50" stroke="#111" stroke-width="1" stroke-linecap="butt"/>
<line x1="440.00" y1="358.10" x2="440.00" y2="453.50" stroke="#111" stroke-width="1" stroke-linecap="butt"/>
<line x1="505.30" y1="358.10" x2="505.30" y2="453.50" stroke="#111" stroke-width="1" stroke-linecap="butt"/>
<line x1="331.70" y1="358.60" x2="505.80" y2="358.60" stroke="#111" stroke-width="1" stroke-linecap="butt"/>
<line x1="331.70" y1="400.20" x2="505.80" y2="400.20" stroke="#111" stroke-width="1" stroke-linecap="butt"/>
<line x1="331.70" y1="428.40" x2="505.80" y2="428.40" stroke="#111" stroke-width="1" stroke-linecap="butt"/>
<line x1="331.70" y1="453.00" x2="505.80" y2="453.00" stroke="#111" stroke-width="1" stroke-linecap="butt"/>
<text transform="translate(355.70 378.50) scale(1 1.0)" font-size="9" text-anchor="middle" fill="#111" font-weight="normal" >GDP-Tub</text>
<text transform="translate(355.70 388.00) scale(1 1.0)" font-size="9" text-anchor="middle" fill="#111" font-weight="normal" >(210 µM)</text>
<text transform="translate(409.60 378.50) scale(1 1.0)" font-size="9" text-anchor="middle" fill="#111" font-weight="normal" >Growth rate</text>
<text transform="translate(409.60 387.50) scale(1 1.0)" font-size="9" text-anchor="middle" fill="#111" font-weight="normal" >(µm.min<tspan font-size="5.5" dy="-3">-1</tspan><tspan dy="3">)</tspan></text>
<text transform="translate(472.60 373.50) scale(1 1.0)" font-size="9" text-anchor="middle" fill="#111" font-weight="normal" >Nucleation</text>
<text transform="translate(472.60 382.60) scale(1 1.0)" font-size="9" text-anchor="middle" fill="#111" font-weight="normal" >lagtime</text>
<text transform="translate(472.60 391.20) scale(1 1.0)" font-size="9" text-anchor="middle" fill="#111" font-weight="normal" >(min)</text>
<text transform="translate(355.70 417.00) scale(1 1.0)" font-size="9" text-anchor="middle" fill="#111" font-weight="normal" >(-) end</text>
<text transform="translate(355.70 444.00) scale(1 1.0)" font-size="9" text-anchor="middle" fill="#111" font-weight="normal" >(+) end</text>
<text transform="translate(409.60 413.00) scale(1 1.08)" font-size="7.8" text-anchor="middle" fill="#111" font-weight="normal" >0.154 +/- 0.047</text>
<text transform="translate(409.60 421.00) scale(1 1.0)" font-size="7.8" text-anchor="middle" fill="#111" font-weight="normal" >(n = 172)</text>
<text transform="translate(409.60 440.20) scale(1 1.08)" font-size="7.8" text-anchor="middle" fill="#111" font-weight="normal" >0.116 +/- 0.047</text>
<text transform="translate(409.60 448.20) scale(1 1.0)" font-size="7.8" text-anchor="middle" fill="#111" font-weight="normal" >(n = 37)</text>
<text transform="translate(472.60 413.00) scale(1 1.08)" font-size="7.8" text-anchor="middle" fill="#111" font-weight="normal" >9.227 +/- 11.287</text>
<text transform="translate(472.60 421.00) scale(1 1.0)" font-size="7.8" text-anchor="middle" fill="#111" font-weight="normal" >(n = 98)</text>
<text transform="translate(472.60 440.20) scale(1 1.08)" font-size="7.8" text-anchor="middle" fill="#111" font-weight="normal" >35.530 +/- 9.713</text>
<text transform="translate(472.60 448.20) scale(1 1.0)" font-size="7.8" text-anchor="middle" fill="#111" font-weight="normal" >(n = 28)</text>
<text transform="translate(0.00 522.50) scale(1 1.12)" font-size="10.5" text-anchor="start" fill="#000" font-weight="bold" >J</text>
<rect x="28.80" y="514.80" width="7.20" height="7.40" fill="#8e8e8e" stroke="#333" stroke-width="0.8"/>
<rect x="28.80" y="526.30" width="7.20" height="7.40" fill="#efefef" stroke="#333" stroke-width="0.8"/>
<text transform="translate(38.50 521.50) scale(1 1.12)" font-size="8" text-anchor="start" fill="#111" font-weight="normal" >One-end nucleating seeds</text>
<text transform="translate(38.50 533.20) scale(1 1.12)" font-size="8" text-anchor="start" fill="#111" font-weight="normal" >Two-end nucleating seeds</text>
<line x1="28.30" y1="541.50" x2="28.30" y2="644.90" stroke="#111" stroke-width="1.3" stroke-linecap="butt"/>
<line x1="24.00" y1="644.40" x2="28.00" y2="644.40" stroke="#111" stroke-width="1.1" stroke-linecap="butt"/>
<text transform="translate(23.00 648.20) scale(1 1.12)" font-size="8" text-anchor="end" fill="#111" font-weight="normal" >0</text>
<line x1="24.00" y1="592.95" x2="28.00" y2="592.95" stroke="#111" stroke-width="1.1" stroke-linecap="butt"/>
<text transform="translate(23.00 596.75) scale(1 1.12)" font-size="8" text-anchor="end" fill="#111" font-weight="normal" >50</text>
<line x1="24.00" y1="541.50" x2="28.00" y2="541.50" stroke="#111" stroke-width="1.1" stroke-linecap="butt"/>
<text transform="translate(23.00 545.30) scale(1 1.12)" font-size="8" text-anchor="end" fill="#111" font-weight="normal" >100</text>
<line x1="28.00" y1="644.50" x2="176.00" y2="644.50" stroke="#111" stroke-width="1.2" stroke-linecap="butt"/>
<text transform="translate(9.60 593.80) rotate(-90) scale(1 1.0)" font-size="8.8" text-anchor="middle" fill="#111" font-weight="normal" >Percentage of seeds</text>
<rect x="33.45" y="541.50" width="8.20" height="102.90" fill="#efefef" stroke="#555" stroke-width="0.9"/>
<rect x="33.45" y="553.23" width="8.20" height="91.17" fill="#8e8e8e" stroke="#444" stroke-width="0.9"/>
<text transform="translate(39.95 642.80) rotate(-90) scale(1 1.12)" font-size="6.8" text-anchor="start" fill="#1a1a1a" font-weight="normal" >n=202</text>
<rect x="47.65" y="541.50" width="8.20" height="102.90" fill="#efefef" stroke="#555" stroke-width="0.9"/>
<rect x="47.65" y="605.30" width="8.20" height="39.10" fill="#8e8e8e" stroke="#444" stroke-width="0.9"/>
<text transform="translate(54.15 642.80) rotate(-90) scale(1 1.12)" font-size="6.8" text-anchor="start" fill="#1a1a1a" font-weight="normal" >n=134</text>
<rect x="60.85" y="541.50" width="8.20" height="102.90" fill="#efefef" stroke="#555" stroke-width="0.9"/>
<rect x="60.85" y="564.14" width="8.20" height="80.26" fill="#8e8e8e" stroke="#444" stroke-width="0.9"/>
<text transform="translate(67.35 642.80) rotate(-90) scale(1 1.12)" font-size="6.8" text-anchor="start" fill="#1a1a1a" font-weight="normal" >n=297</text>
<path d="M83.80 642.80 L86.20 642.80 L85.00 644.40 Z" fill="none" stroke="#999" stroke-width="0.5"/>
<path d="M86.30 642.80 L88.70 642.80 L87.50 644.40 Z" fill="none" stroke="#999" stroke-width="0.5"/>
<path d="M88.80 642.80 L91.20 642.80 L90.00 644.40 Z" fill="none" stroke="#999" stroke-width="0.5"/>
<rect x="97.75" y="541.50" width="8.20" height="102.90" fill="#efefef" stroke="#555" stroke-width="0.9"/>
<rect x="97.75" y="561.05" width="8.20" height="83.35" fill="#8e8e8e" stroke="#444" stroke-width="0.9"/>
<text transform="translate(104.25 642.80) rotate(-90) scale(1 1.12)" font-size="6.8" text-anchor="start" fill="#1a1a1a" font-weight="normal" >n=113</text>
<rect x="111.45" y="541.50" width="8.20" height="102.90" fill="#efefef" stroke="#555" stroke-width="0.9"/>
<rect x="111.45" y="541.50" width="8.20" height="102.90" fill="#8e8e8e" stroke="#444" stroke-width="0.9"/>
<text transform="translate(117.95 642.80) rotate(-90) scale(1 1.12)" font-size="6.8" text-anchor="start" fill="#1a1a1a" font-weight="normal" >n=91</text>
<path d="M134.80 642.80 L137.20 642.80 L136.00 644.40 Z" fill="none" stroke="#999" stroke-width="0.5"/>
<path d="M137.30 642.80 L139.70 642.80 L138.50 644.40 Z" fill="none" stroke="#999" stroke-width="0.5"/>
<path d="M139.80 642.80 L142.20 642.80 L141.00 644.40 Z" fill="none" stroke="#999" stroke-width="0.5"/>
<rect x="148.45" y="541.50" width="8.20" height="102.90" fill="#efefef" stroke="#555" stroke-width="0.9"/>
<rect x="148.45" y="547.67" width="8.20" height="96.73" fill="#8e8e8e" stroke="#444" stroke-width="0.9"/>
<text transform="translate(154.95 642.80) rotate(-90) scale(1 1.12)" font-size="6.8" text-anchor="start" fill="#1a1a1a" font-weight="normal" >n=239</text>
<rect x="162.45" y="541.50" width="8.20" height="102.90" fill="#efefef" stroke="#555" stroke-width="0.9"/>
<rect x="162.45" y="541.50" width="8.20" height="102.90" fill="#8e8e8e" stroke="#444" stroke-width="0.9"/>
<text transform="translate(168.95 642.80) rotate(-90) scale(1 1.12)" font-size="6.8" text-anchor="start" fill="#1a1a1a" font-weight="normal" >n=25</text>
<path d="M41.90 542.90 L45.30 542.90 L43.60 546.10 Z" fill="#7a7a7a"/>
<path d="M41.90 545.30 L45.30 545.30 L43.60 548.50 Z" fill="#7a7a7a"/>
<path d="M41.90 552.30 L45.30 552.30 L43.60 555.50 Z" fill="#7a7a7a"/>
<path d="M41.90 557.00 L45.30 557.00 L43.60 560.20 Z" fill="#7a7a7a"/>
<path d="M56.10 574.50 L59.50 574.50 L57.80 577.70 Z" fill="#7a7a7a"/>
<path d="M56.10 608.00 L59.50 608.00 L57.80 611.20 Z" fill="#7a7a7a"/>
<path d="M56.10 612.20 L59.50 612.20 L57.80 615.40 Z" fill="#7a7a7a"/>
<path d="M56.10 620.60 L59.50 620.60 L57.80 623.80 Z" fill="#7a7a7a"/>
<path d="M70.10 554.70 L73.50 554.70 L71.80 557.90 Z" fill="#7a7a7a"/>
<path d="M70.10 563.50 L73.50 563.50 L71.80 566.70 Z" fill="#7a7a7a"/>
<path d="M70.10 567.60 L73.50 567.60 L71.80 570.80 Z" fill="#7a7a7a"/>
<path d="M106.60 544.30 L110.00 544.30 L108.30 547.50 Z" fill="#7a7a7a"/>
<path d="M106.60 549.30 L110.00 549.30 L108.30 552.50 Z" fill="#7a7a7a"/>
<path d="M106.60 559.30 L110.00 559.30 L108.30 562.50 Z" fill="#7a7a7a"/>
<path d="M106.60 573.10 L110.00 573.10 L108.30 576.30 Z" fill="#7a7a7a"/>
<path d="M121.00 539.50 L124.40 539.50 L122.70 542.70 Z" fill="#7a7a7a"/>
<path d="M123.10 539.50 L126.50 539.50 L124.80 542.70 Z" fill="#7a7a7a"/>
<path d="M156.60 539.30 L160.00 539.30 L158.30 542.50 Z" fill="#7a7a7a"/>
<path d="M156.60 547.70 L160.00 547.70 L158.30 550.90 Z" fill="#7a7a7a"/>
<path d="M156.60 549.90 L160.00 549.90 L158.30 553.10 Z" fill="#7a7a7a"/>
<path d="M171.40 539.30 L174.80 539.30 L173.10 542.50 Z" fill="#7a7a7a"/>
<text transform="translate(42.00 652.30) rotate(-38) scale(1 1.12)" font-size="7.8" text-anchor="end" fill="#111" font-weight="normal" >Ctrl</text>
<text transform="translate(56.60 652.60) rotate(-38) scale(1 1.12)" font-size="7.8" text-anchor="end" fill="#111" font-weight="normal" >+ DCX</text>
<text transform="translate(70.60 651.20) rotate(-38) scale(1 1.12)" font-size="7.8" text-anchor="end" fill="#111" font-weight="normal" >+ tau</text>
<text transform="translate(92.50 652.30) rotate(-38) scale(1 1.12)" font-size="7.8" text-anchor="end" fill="#111" font-weight="normal" >Ctrl</text>
<text transform="translate(107.10 652.60) rotate(-38) scale(1 1.12)" font-size="7.8" text-anchor="end" fill="#111" font-weight="normal" >+ DCX</text>
<text transform="translate(121.10 651.20) rotate(-38) scale(1 1.12)" font-size="7.8" text-anchor="end" fill="#111" font-weight="normal" >+ tau</text>
<text transform="translate(143.50 652.30) rotate(-38) scale(1 1.12)" font-size="7.8" text-anchor="end" fill="#111" font-weight="normal" >Ctrl</text>
<text transform="translate(158.10 652.60) rotate(-38) scale(1 1.12)" font-size="7.8" text-anchor="end" fill="#111" font-weight="normal" >+ DCX</text>
<text transform="translate(172.10 651.20) rotate(-38) scale(1 1.12)" font-size="7.8" text-anchor="end" fill="#111" font-weight="normal" >+ tau</text>
<line x1="28.50" y1="666.70" x2="67.30" y2="666.70" stroke="#111" stroke-width="1.1" stroke-linecap="butt"/>
<text transform="translate(47.90 678.00) scale(1 1.12)" font-size="8" text-anchor="middle" fill="#111" font-weight="normal" >210 µM Tub</text>
<line x1="79.50" y1="666.70" x2="118.75" y2="666.70" stroke="#111" stroke-width="1.1" stroke-linecap="butt"/>
<text transform="translate(99.12 678.00) scale(1 1.12)" font-size="8" text-anchor="middle" fill="#111" font-weight="normal" >100 µM Tub</text>
<line x1="129.00" y1="666.70" x2="168.00" y2="666.70" stroke="#111" stroke-width="1.1" stroke-linecap="butt"/>
<text transform="translate(148.50 678.00) scale(1 1.12)" font-size="8" text-anchor="middle" fill="#111" font-weight="normal" >50 µM Tub</text>
<text transform="translate(195.80 521.50) scale(1 1.12)" font-size="10.5" text-anchor="start" fill="#000" font-weight="bold" >K</text>
<text transform="translate(262.75 525.40) scale(1 1.0)" font-size="7.95" text-anchor="middle" fill="#111" font-weight="normal" >GTP-tub-assembled MTs</text>
<text transform="translate(377.85 525.40) scale(1 1.0)" font-size="7.95" text-anchor="middle" fill="#111" font-weight="normal" >GDP-tub-assembled MTs</text>
<clipPath id="kc0"><rect x="199.7" y="530" width="126.30" height="145"/></clipPath>
<rect x="199.7" y="530.2" width="126.30" height="26" fill="#000" filter="url(#grainK)"/>
<clipPath id="kp00"><rect x="199.7" y="530.2" width="126.30" height="26"/></clipPath>
<g clip-path="url(#kp00)">
<path d="M279 529.7 Q300 535.2 326 539.6" stroke="#d8d8d8" stroke-width="0.9" fill="none" opacity="0.65" stroke-linecap="round"/>
<path d="M272 541.7 Q300 548.2 326 554.2" stroke="#d8d8d8" stroke-width="0.9" fill="none" opacity="0.6" stroke-linecap="round"/>
<path d="M296 548.7 Q312 551.2 326 555.7" stroke="#d8d8d8" stroke-width="0.9" fill="none" opacity="0.45" stroke-linecap="round"/>
<path d="M210 544.8000000000001 L326 545.1" stroke="#e6e6e6" stroke-width="1.0" fill="none" opacity="0.8" stroke-linecap="round"/>
<ellipse cx="257" cy="544.8000000000001" rx="2.2" ry="0.9" fill="#fff" opacity="0.9"/>
<circle cx="216.2" cy="529.4000000000001" r="3.8" stroke="#bbb" stroke-width="0.8" fill="none" opacity="0.75"/>
<circle cx="243.70" cy="536.70" r="0.7" fill="#ccc"/>
</g>
<text transform="translate(324.70 537.80) scale(1 1.12)" font-size="7.6" text-anchor="end" fill="#fff" font-weight="bold" >0 s</text>
<text transform="translate(257.30 541.60) scale(1 1.18)" font-size="8" text-anchor="middle" fill="#fff" font-weight="bold" >S</text>
<path d="M208.40 535.20 L213.40 535.20 L210.90 540.80 Z" fill="#f2e41e"/>
<rect x="199.7" y="559.4" width="126.30" height="26" fill="#000" filter="url(#grainK)"/>
<clipPath id="kp01"><rect x="199.7" y="559.4" width="126.30" height="26"/></clipPath>
<g clip-path="url(#kp01)">
<path d="M279 558.9 Q300 564.4 326 568.8" stroke="#d8d8d8" stroke-width="0.9" fill="none" opacity="0.65" stroke-linecap="round"/>
<path d="M272 570.9 Q300 577.4 326 583.4" stroke="#d8d8d8" stroke-width="0.9" fill="none" opacity="0.6" stroke-linecap="round"/>
<path d="M296 577.9 Q312 580.4 326 584.9" stroke="#d8d8d8" stroke-width="0.9" fill="none" opacity="0.45" stroke-linecap="round"/>
<path d="M229.6 574.0 L326 574.3" stroke="#e6e6e6" stroke-width="1.0" fill="none" opacity="0.8" stroke-linecap="round"/>
<ellipse cx="257" cy="574.0" rx="2.2" ry="0.9" fill="#fff" opacity="0.9"/>
<circle cx="216.2" cy="558.6" r="3.8" stroke="#bbb" stroke-width="0.8" fill="none" opacity="0.75"/>
<circle cx="243.70" cy="565.90" r="0.7" fill="#ccc"/>
</g>
<text transform="translate(324.70 567.00) scale(1 1.12)" font-size="7.6" text-anchor="end" fill="#fff" font-weight="bold" >4 s</text>
<text transform="translate(257.30 570.80) scale(1 1.18)" font-size="8" text-anchor="middle" fill="#fff" font-weight="bold" >S</text>
<path d="M227.50 565.50 L232.50 565.50 L230.00 571.50 Z" fill="#f2e41e"/>
<rect x="199.7" y="588.6" width="126.30" height="26" fill="#000" filter="url(#grainK)"/>
<clipPath id="kp02"><rect x="199.7" y="588.6" width="126.30" height="26"/></clipPath>
<g clip-path="url(#kp02)">
<path d="M279 588.1 Q300 593.6 326 598.0" stroke="#d8d8d8" stroke-width="0.9" fill="none" opacity="0.65" stroke-linecap="round"/>
<path d="M272 600.1 Q300 606.6 326 612.6" stroke="#d8d8d8" stroke-width="0.9" fill="none" opacity="0.6" stroke-linecap="round"/>
<path d="M296 607.1 Q312 609.6 326 614.1" stroke="#d8d8d8" stroke-width="0.9" fill="none" opacity="0.45" stroke-linecap="round"/>
<path d="M254.2 603.2 L326 603.5" stroke="#e6e6e6" stroke-width="1.0" fill="none" opacity="0.8" stroke-linecap="round"/>
<ellipse cx="257" cy="603.2" rx="2.2" ry="0.9" fill="#fff" opacity="0.9"/>
<circle cx="216.2" cy="587.8000000000001" r="3.8" stroke="#bbb" stroke-width="0.8" fill="none" opacity="0.75"/>
<circle cx="243.70" cy="595.10" r="0.7" fill="#ccc"/>
</g>
<text transform="translate(324.70 596.20) scale(1 1.12)" font-size="7.6" text-anchor="end" fill="#fff" font-weight="bold" >8 s</text>
<text transform="translate(257.30 600.00) scale(1 1.18)" font-size="8" text-anchor="middle" fill="#fff" font-weight="bold" >S</text>
<path d="M249.25 595.70 L254.25 595.70 L251.75 600.80 Z" fill="#f2e41e"/>
<rect x="199.7" y="617.8" width="126.30" height="26" fill="#000" filter="url(#grainK)"/>
<clipPath id="kp03"><rect x="199.7" y="617.8" width="126.30" height="26"/></clipPath>
<g clip-path="url(#kp03)">
<path d="M279 617.3 Q300 622.8 326 627.1999999999999" stroke="#d8d8d8" stroke-width="0.9" fill="none" opacity="0.65" stroke-linecap="round"/>
<path d="M272 629.3 Q300 635.8 326 641.8" stroke="#d8d8d8" stroke-width="0.9" fill="none" opacity="0.6" stroke-linecap="round"/>
<path d="M296 636.3 Q312 638.8 326 643.3" stroke="#d8d8d8" stroke-width="0.9" fill="none" opacity="0.45" stroke-linecap="round"/>
<path d="M256 632.4 L326 632.6999999999999" stroke="#e6e6e6" stroke-width="1.0" fill="none" opacity="0.8" stroke-linecap="round"/>
<ellipse cx="257" cy="632.4" rx="2.2" ry="0.9" fill="#fff" opacity="0.9"/>
<circle cx="216.2" cy="617.0" r="3.8" stroke="#bbb" stroke-width="0.8" fill="none" opacity="0.75"/>
<circle cx="243.70" cy="624.30" r="0.7" fill="#ccc"/>
</g>
<text transform="translate(324.70 625.40) scale(1 1.12)" font-size="7.6" text-anchor="end" fill="#fff" font-weight="bold" >10 s</text>
<text transform="translate(257.30 629.20) scale(1 1.18)" font-size="8" text-anchor="middle" fill="#fff" font-weight="bold" >S</text>
<rect x="199.7" y="647.0" width="126.30" height="26" fill="#000" filter="url(#grainK)"/>
<clipPath id="kp04"><rect x="199.7" y="647.0" width="126.30" height="26"/></clipPath>
<g clip-path="url(#kp04)">
<path d="M279 646.5 Q300 652.0 326 656.4" stroke="#d8d8d8" stroke-width="0.9" fill="none" opacity="0.65" stroke-linecap="round"/>
<path d="M272 658.5 Q300 665.0 326 671.0" stroke="#d8d8d8" stroke-width="0.9" fill="none" opacity="0.6" stroke-linecap="round"/>
<path d="M296 665.5 Q312 668.0 326 672.5" stroke="#d8d8d8" stroke-width="0.9" fill="none" opacity="0.45" stroke-linecap="round"/>
<path d="M256 661.6 L326 661.9" stroke="#e6e6e6" stroke-width="1.0" fill="none" opacity="0.8" stroke-linecap="round"/>
<ellipse cx="257" cy="661.6" rx="2.2" ry="0.9" fill="#fff" opacity="0.9"/>
<circle cx="216.2" cy="646.2" r="3.8" stroke="#bbb" stroke-width="0.8" fill="none" opacity="0.75"/>
<circle cx="243.70" cy="653.50" r="0.7" fill="#ccc"/>
</g>
<text transform="translate(324.70 654.60) scale(1 1.12)" font-size="7.6" text-anchor="end" fill="#fff" font-weight="bold" >14 s</text>
<text transform="translate(257.30 658.40) scale(1 1.18)" font-size="8" text-anchor="middle" fill="#fff" font-weight="bold" >S</text>
<clipPath id="kc1"><rect x="332.7" y="530" width="89.60" height="145"/></clipPath>
<rect x="332.7" y="530.2" width="89.60" height="26" fill="#000" filter="url(#grainK)"/>
<clipPath id="kp10"><rect x="332.7" y="530.2" width="89.60" height="26"/></clipPath>
<g clip-path="url(#kp10)">
<path d="M343.7 544.5 L405 542.3" stroke="#e0e0e0" stroke-width="1.0" fill="none" opacity="0.7" stroke-linecap="round"/>
<path d="M370.2 549.0 L383 535.3000000000001" stroke="#d8d8d8" stroke-width="0.9" fill="none" opacity="0.6" stroke-linecap="round"/>
<circle cx="388.30" cy="544.70" r="1.1" fill="#fff"/>
</g>
<text transform="translate(421.00 537.80) scale(1 1.12)" font-size="7.6" text-anchor="end" fill="#fff" font-weight="bold" >0 s</text>
<text transform="translate(388.40 542.10) scale(1 1.18)" font-size="8" text-anchor="middle" fill="#fff" font-weight="bold" >S</text>
<path d="M341.80 537.00 L346.80 537.00 L344.30 542.20 Z" fill="#f2e41e"/>
<rect x="332.7" y="559.4" width="89.60" height="26" fill="#000" filter="url(#grainK)"/>
<clipPath id="kp11"><rect x="332.7" y="559.4" width="89.60" height="26"/></clipPath>
<g clip-path="url(#kp11)">
<path d="M355.6 574.4 L398.6 573.1" stroke="#e0e0e0" stroke-width="1.0" fill="none" opacity="0.7" stroke-linecap="round"/>
<path d="M375.7 571.3 L383 564.3" stroke="#d8d8d8" stroke-width="1.1" fill="none" opacity="0.75" stroke-linecap="round"/>
<circle cx="388.30" cy="574.60" r="1.1" fill="#fff"/>
</g>
<text transform="translate(421.00 567.00) scale(1 1.12)" font-size="7.6" text-anchor="end" fill="#fff" font-weight="bold" >4 s</text>
<text transform="translate(388.40 572.00) scale(1 1.18)" font-size="8" text-anchor="middle" fill="#fff" font-weight="bold" >S</text>
<path d="M357.70 566.70 L362.70 566.70 L360.20 572.10 Z" fill="#f2e41e"/>
<rect x="332.7" y="588.6" width="89.60" height="26" fill="#000" filter="url(#grainK)"/>
<clipPath id="kp12"><rect x="332.7" y="588.6" width="89.60" height="26"/></clipPath>
<g clip-path="url(#kp12)">
<path d="M371.1 603.6 L393 602.7" stroke="#e0e0e0" stroke-width="1.0" fill="none" opacity="0.7" stroke-linecap="round"/>
<path d="M379.8 596.2 L382.4 594.6" stroke="#d8d8d8" stroke-width="1.5" fill="none" opacity="0.9" stroke-linecap="round"/>
<circle cx="388.30" cy="603.80" r="1.1" fill="#fff"/>
</g>
<text transform="translate(421.00 596.20) scale(1 1.12)" font-size="7.6" text-anchor="end" fill="#fff" font-weight="bold" >8 s</text>
<text transform="translate(388.40 601.20) scale(1 1.18)" font-size="8" text-anchor="middle" fill="#fff" font-weight="bold" >S</text>
<path d="M368.60 595.50 L373.60 595.50 L371.10 601.30 Z" fill="#f2e41e"/>
<rect x="332.7" y="617.8" width="89.60" height="26" fill="#000" filter="url(#grainK)"/>
<clipPath id="kp13"><rect x="332.7" y="617.8" width="89.60" height="26"/></clipPath>
<g clip-path="url(#kp13)">
<path d="M375.7 632.7 L389.4 631.8" stroke="#e0e0e0" stroke-width="1.0" fill="none" opacity="0.7" stroke-linecap="round"/>
<circle cx="382.10" cy="623.80" r="0.9" fill="#eee"/>
<circle cx="388.30" cy="632.90" r="1.1" fill="#fff"/>
</g>
<text transform="translate(421.00 625.40) scale(1 1.12)" font-size="7.6" text-anchor="end" fill="#fff" font-weight="bold" >10 s</text>
<text transform="translate(388.40 629.40) scale(1 1.18)" font-size="8" text-anchor="middle" fill="#fff" font-weight="bold" >S</text>
<path d="M371.70 624.70 L376.70 624.70 L374.20 630.50 Z" fill="#f2e41e"/>
<rect x="332.7" y="647.0" width="89.60" height="26" fill="#000" filter="url(#grainK)"/>
<clipPath id="kp14"><rect x="332.7" y="647.0" width="89.60" height="26"/></clipPath>
<g clip-path="url(#kp14)">
<path d="M383 661.6 L390.3 661.0" stroke="#e0e0e0" stroke-width="1.0" fill="none" opacity="0.7" stroke-linecap="round"/>
<circle cx="388.30" cy="661.80" r="1.1" fill="#fff"/>
</g>
<text transform="translate(421.00 654.60) scale(1 1.12)" font-size="7.6" text-anchor="end" fill="#fff" font-weight="bold" >14 s</text>
<text transform="translate(388.40 658.30) scale(1 1.18)" font-size="8" text-anchor="middle" fill="#fff" font-weight="bold" >S</text>
<path d="M379.60 653.10 L384.60 653.10 L382.10 659.00 Z" fill="#f2e41e"/>
<text transform="translate(211.50 667.60) scale(1 1.12)" font-size="7.4" text-anchor="middle" fill="#fff" font-weight="normal" >5 µm</text>
<line x1="203.00" y1="670.30" x2="220.00" y2="670.30" stroke="#fff" stroke-width="1.0" stroke-linecap="butt"/>
<line x1="468.50" y1="538.40" x2="468.50" y2="644.10" stroke="#111" stroke-width="1.2" stroke-linecap="butt"/>
<line x1="464.70" y1="643.60" x2="468.20" y2="643.60" stroke="#111" stroke-width="1.1" stroke-linecap="butt"/>
<text transform="translate(463.20 647.10) scale(1 1.1)" font-size="7.8" text-anchor="end" fill="#111" font-weight="normal" >0</text>
<line x1="464.70" y1="608.57" x2="468.20" y2="608.57" stroke="#111" stroke-width="1.1" stroke-linecap="butt"/>
<text transform="translate(463.20 612.07) scale(1 1.1)" font-size="7.8" text-anchor="end" fill="#111" font-weight="normal" >50</text>
<line x1="464.70" y1="573.53" x2="468.20" y2="573.53" stroke="#111" stroke-width="1.1" stroke-linecap="butt"/>
<text transform="translate(463.20 577.03) scale(1 1.1)" font-size="7.8" text-anchor="end" fill="#111" font-weight="normal" >100</text>
<line x1="464.70" y1="538.50" x2="468.20" y2="538.50" stroke="#111" stroke-width="1.1" stroke-linecap="butt"/>
<text transform="translate(463.20 542.00) scale(1 1.1)" font-size="7.8" text-anchor="end" fill="#111" font-weight="normal" >150</text>
<rect x="477.30" y="583.60" width="11.60" height="60.00" fill="#8e8e8e" stroke="#333" stroke-width="0.9"/>
<rect x="499.30" y="609.20" width="11.20" height="34.40" fill="#f2f2f2" stroke="#333" stroke-width="0.9"/>
<line x1="468.00" y1="643.50" x2="519.00" y2="643.50" stroke="#111" stroke-width="1.2" stroke-linecap="butt"/>
<line x1="483.30" y1="567.60" x2="483.30" y2="583.60" stroke="#111" stroke-width="1.1" stroke-linecap="butt"/>
<line x1="479.50" y1="567.60" x2="487.00" y2="567.60" stroke="#111" stroke-width="1.1" stroke-linecap="butt"/>
<line x1="504.90" y1="592.00" x2="504.90" y2="609.20" stroke="#111" stroke-width="1.1" stroke-linecap="butt"/>
<line x1="501.00" y1="592.00" x2="508.80" y2="592.00" stroke="#111" stroke-width="1.1" stroke-linecap="butt"/>
<path d="M481.50 569.06 L485.10 569.06 L483.30 572.12 Z" fill="#111"/>
<path d="M481.50 573.06 L485.10 573.06 L483.30 576.12 Z" fill="#111"/>
<path d="M481.50 591.26 L485.10 591.26 L483.30 594.32 Z" fill="#111"/>
<path d="M503.10 601.06 L506.70 601.06 L504.90 604.12 Z" fill="#111"/>
<path d="M500.60 608.36 L504.20 608.36 L502.40 611.42 Z" fill="#111"/>
<path d="M504.80 608.36 L508.40 608.36 L506.60 611.42 Z" fill="#111"/>
<line x1="483.30" y1="562.50" x2="504.60" y2="562.50" stroke="#111" stroke-width="1.1" stroke-linecap="butt"/>
<text transform="translate(493.80 563.30) scale(1 1.12)" font-size="8" text-anchor="middle" fill="#111" font-weight="normal" >****</text>
<text transform="translate(485.80 642.30) rotate(-90) scale(1 1.12)" font-size="6.8" text-anchor="start" fill="#1a1a1a" font-weight="normal" >n=24</text>
<text transform="translate(508.10 642.30) rotate(-90) scale(1 1.12)" font-size="6.8" text-anchor="start" fill="#1a1a1a" font-weight="normal" >n=21</text>
<text transform="translate(439.30 590.00) rotate(-90) scale(1 1.03)" font-size="9" text-anchor="middle" fill="#111" font-weight="normal" >Dilution-induced MT</text>
<text transform="translate(448.40 589.50) rotate(-90) scale(1 1.03)" font-size="8.5" text-anchor="middle" fill="#111" font-weight="normal" >shrinkage rate (µm.min<tspan font-size="5.2" dy="-3">-1</tspan><tspan dy="3">)</tspan></text>
<text transform="translate(487.60 651.60) rotate(-35) scale(1 1.12)" font-size="8" text-anchor="end" fill="#111" font-weight="normal" >GTP-tub</text>
<text transform="translate(511.30 651.60) rotate(-35) scale(1 1.12)" font-size="8" text-anchor="end" fill="#111" font-weight="normal" >GDP-tub</text>
</svg></body></html>
